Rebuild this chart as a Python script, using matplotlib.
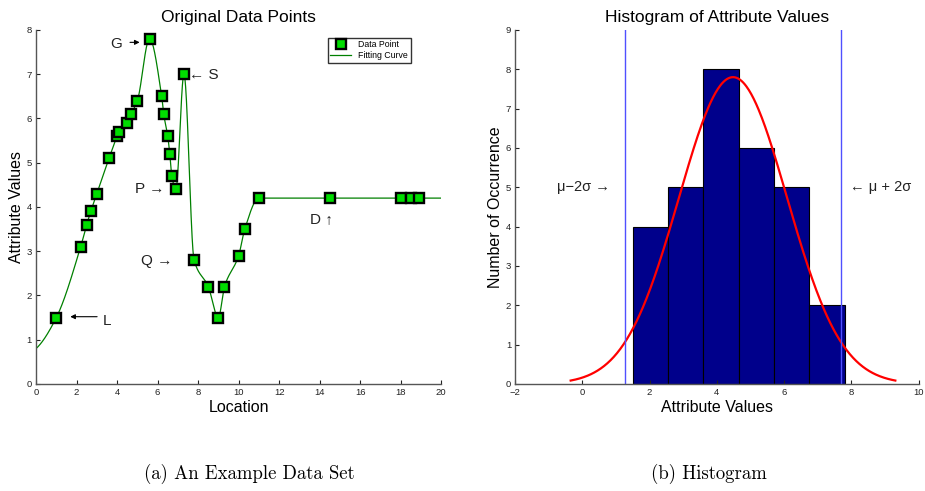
import numpy as np
import matplotlib
matplotlib.use("Agg")
import matplotlib.pyplot as plt

plt.rcParams["font.family"] = ["Liberation Sans", "DejaVu Sans"]

# ==========================================
# data
# ==========================================
loc = [1.0, 2.2, 2.5, 2.7, 3.0, 3.6, 4.0, 4.1, 4.5, 4.7, 5.0, 5.6,
       6.2, 6.3, 6.5, 6.6, 6.7, 6.9, 7.3, 7.8, 8.5, 9.0, 9.3, 10.0,
       10.3, 11.0, 14.5, 18.0, 18.5, 18.9]
vals = [1.5, 3.1, 3.6, 3.9, 4.3, 5.1, 5.6, 5.7, 5.9, 6.1, 6.4, 7.8,
        6.5, 6.1, 5.6, 5.2, 4.7, 4.4, 7.0, 2.8, 2.2, 1.5, 2.2, 2.9,
        3.5, 4.2, 4.2, 4.2, 4.2, 4.2]
# ends of the fitting curve
curve_start = (0.0, 0.8)
curve_end = (20.0, 4.2)

bin_edges = [1.5, 2.55, 3.6, 4.65, 5.7, 6.75, 7.8]
counts = [4, 5, 8, 6, 5, 2]
mu, sigma, peak = 4.48, 1.61, 7.8


def pchip(xk, yk, xs):
    xk = np.asarray(xk, float)
    yk = np.asarray(yk, float)
    h = np.diff(xk)
    d = np.diff(yk) / h
    m = np.zeros_like(yk)
    for i in range(1, len(xk) - 1):
        if d[i - 1] * d[i] > 0:
            w1 = 2 * h[i] + h[i - 1]
            w2 = h[i] + 2 * h[i - 1]
            m[i] = (w1 + w2) / (w1 / d[i - 1] + w2 / d[i])
    # end slopes (three point formula)
    m[0] = ((2 * h[0] + h[1]) * d[0] - h[0] * d[1]) / (h[0] + h[1])
    m[-1] = ((2 * h[-1] + h[-2]) * d[-1] - h[-1] * d[-2]) / (h[-1] + h[-2])
    idx = np.clip(np.searchsorted(xk, xs) - 1, 0, len(h) - 1)
    t = (xs - xk[idx]) / h[idx]
    h00 = 2 * t**3 - 3 * t**2 + 1
    h10 = t**3 - 2 * t**2 + t
    h01 = -2 * t**3 + 3 * t**2
    h11 = t**3 - t**2
    return (h00 * yk[idx] + h10 * h[idx] * m[idx]
            + h01 * yk[idx + 1] + h11 * h[idx] * m[idx + 1])


fig = plt.figure(figsize=(9.25, 4.91), dpi=100)
ax1 = fig.add_axes([0.039, 0.218, 0.438, 0.721])
ax2 = fig.add_axes([0.557, 0.218, 0.436, 0.721])

for ax in (ax1, ax2):
    for s in ("top", "right"):
        ax.spines[s].set_visible(False)
    for s in ("left", "bottom"):
        ax.spines[s].set_color("#555555")
        ax.spines[s].set_linewidth(1.0)
    ax.tick_params(direction="in", labelsize=6.8, length=3, colors="#222222",
                   pad=3)

# ==========================================
# (a) original data points
# ==========================================
kx = [curve_start[0]] + loc + [curve_end[0]]
ky = [curve_start[1]] + vals + [curve_end[1]]
xs = np.linspace(kx[0], kx[-1], 2000)
ax1.plot(xs, pchip(kx, ky, xs), color="#008000", lw=0.9, label="Fitting Curve")
ax1.plot(loc, vals, ls="none", marker="s", ms=6.5, mfc="#00dd00", mec="black",
         mew=1.7, label="Data Point", zorder=3)

ax1.set_xlim(0, 20)
ax1.set_ylim(0, 8)
ax1.set_xticks(range(0, 21, 2))
ax1.set_yticks(range(0, 9))
ax1.set_title("Original Data Points", fontsize=12.5, pad=6)
ax1.set_xlabel("Location", fontsize=11.5, labelpad=2)
ax1.set_ylabel("Attribute Values", fontsize=11.5, labelpad=2)

h, l = ax1.get_legend_handles_labels()
leg = ax1.legend([h[1], h[0]], [l[1], l[0]], loc="upper right",
                 bbox_to_anchor=(0.935, 0.99), fontsize=6.3, frameon=True,
                 fancybox=False, edgecolor="black", borderpad=0.3,
                 handlelength=2.4, labelspacing=0.2)
leg.get_frame().set_linewidth(1.0)

tk = dict(fontsize=11, color="#222222", va="center")
ax1.annotate("", xy=(5.25, 7.72), xytext=(4.5, 7.72),
             arrowprops=dict(arrowstyle="-|>", color="black", lw=0.8,
                             mutation_scale=7))
ax1.text(3.65, 7.68, "G", ha="left", **tk)
ax1.text(7.55, 6.98, "\u2190 S", ha="left", **tk)
ax1.text(4.9, 4.4, "P \u2192", ha="left", **tk)
ax1.text(5.2, 2.78, "Q \u2192", ha="left", **tk)
ax1.text(13.5, 3.73, "D \u2191", ha="left", **tk)
ax1.annotate("", xy=(1.55, 1.52), xytext=(3.15, 1.52),
             arrowprops=dict(arrowstyle="-|>", color="black", lw=0.8,
                             mutation_scale=7))
ax1.text(3.3, 1.42, "L", ha="left", **tk)

# ==========================================
# (b) histogram
# ==========================================
edges = np.array(bin_edges)
ax2.bar(edges[:-1], counts, width=np.diff(edges), align="edge",
        color="#00008b", edgecolor="black", lw=0.8)
gx = np.linspace(mu - 3 * sigma, mu + 3 * sigma, 400)
ax2.plot(gx, peak * np.exp(-0.5 * ((gx - mu) / sigma) ** 2), color="red", lw=1.6)
for v in (mu - 2 * sigma, mu + 2 * sigma):
    ax2.axvline(v, color="#5050ff", lw=1.0)

ax2.set_xlim(-2, 10)
ax2.set_ylim(0, 9)
ax2.set_xticks(range(-2, 11, 2))
ax2.set_yticks(range(0, 10))
ax2.set_title("Histogram of Attribute Values", fontsize=12.5, pad=6)
ax2.set_xlabel("Attribute Values", fontsize=11.5, labelpad=2)
ax2.set_ylabel("Number of Occurrence", fontsize=11.5, labelpad=2)
ax2.text(-0.75, 5.0, "\u03bc\u22122\u03c3 \u2192", fontsize=10.5, color="#222222",
         va="center", ha="left")
ax2.text(7.95, 5.0, "\u2190 \u03bc + 2\u03c3", fontsize=10.5, color="#222222",
         va="center", ha="left", clip_on=False)

# captions
cap = dict(fontsize=13.5, family=["cmr10", "DejaVu Serif"], ha="center",
           va="center")
fig.text(0.27, 0.035, "(a) An Example Data Set", **cap)
fig.text(0.766, 0.035, "(b) Histogram", **cap)

fig.savefig("out.png", dpi=100)
